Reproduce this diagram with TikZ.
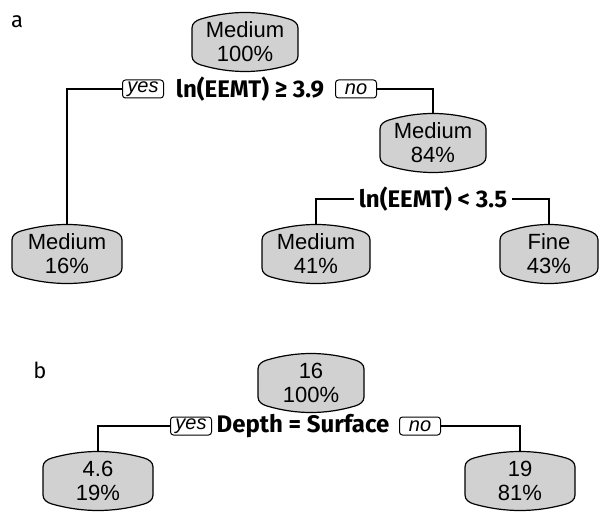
\documentclass[tikz,border=0pt]{standalone}
\usepackage{fontspec}
\setmainfont{Liberation Sans}
\newfontfamily\splitfont{Fira Sans}
\newfontfamily\panelfont{Fira Sans}
\begin{document}
\begin{tikzpicture}[x=1pt,y=-1pt,
  boxpath/.style={draw=black,fill=boxgray,line width=1.2pt},
  boxtext/.style={inner sep=0pt,align=center,font=\fontsize{22}{24}\selectfont},
  splitlabel/.style={inner sep=5pt,font=\splitfont\bfseries\fontsize{24}{26}\selectfont},
  yesno/.style={draw=black,line width=1pt,rounded corners=3pt,minimum width=41pt,
    minimum height=18pt,inner sep=0pt,font=\itshape\fontsize{20}{20}\selectfont},
  edge/.style={draw=black,line width=1.3pt},
  panel/.style={font=\panelfont\fontsize{22}{24}\selectfont}]
\definecolor{boxgray}{gray}{0.82}
\def\boxh{29.5}\def\boxb{6.5}\def\boxr{9}
% rounded box with convex top and bottom, plus a named node of the same size
\newcommand\rbox[5]{%
  \begin{scope}[shift={(#2,#3)}]
    \pgfmathsetmacro\W{#4}
    \pgfmathsetmacro\H{\boxh}
    \pgfmathsetmacro\K{(2*\W-2*\boxr)/3}
    \pgfmathsetmacro\S{4*\boxb/3}
    \pgfmathsetmacro\N{sqrt(\K*\K+\S*\S)}
    \pgfmathsetmacro\cx{0.55*\boxr*\K/\N}
    \pgfmathsetmacro\cy{0.55*\boxr*\S/\N}
    \pgfmathsetmacro\Y{\H-\boxb}
    \pgfmathsetmacro\Ys{\H-\boxb-\boxr}
    \pgfmathsetmacro\X{\W-\boxr}
    \pgfmathsetmacro\R{0.55*\boxr}
    \path[boxpath] (-\W,-\Ys) -- (-\W,\Ys)
      .. controls (-\W,\Ys+\R) and (-\X-\cx,\Y-\cy) .. (-\X,\Y)
      .. controls (-\X+\K,\Y+\S) and (\X-\K,\Y+\S) .. (\X,\Y)
      .. controls (\X+\cx,\Y-\cy) and (\W,\Ys+\R) .. (\W,\Ys)
      -- (\W,-\Ys)
      .. controls (\W,-\Ys-\R) and (\X+\cx,-\Y+\cy) .. (\X,-\Y)
      .. controls (\X-\K,-\Y-\S) and (-\X+\K,-\Y-\S) .. (-\X,-\Y)
      .. controls (-\X-\cx,-\Y+\cy) and (-\W,-\Ys-\R) .. cycle;
  \end{scope}
  \node[boxtext,minimum width=2*#4pt,minimum height=2*\boxh pt] (#1) at (#2,#3) {#5};}

\useasboundingbox (0,0) rectangle (600,513);

% ---------- tree a ----------
\node[panel] (pa) at (17,22) {a};
\rbox{ra}{245}{42}{53}{Medium\\100\%}
\node[splitlabel] (sa) at (250,89) {ln(EEMT) ≥ 3.9};
\node[yesno] (ya) at (143,89) {yes};
\node[yesno] (na) at (356,89) {no};
\rbox{m84}{433}{143}{53}{Medium\\84\%}
\node[splitlabel] (s2) at (433,199) {ln(EEMT) < 3.5};
\rbox{m16}{67}{254}{55}{Medium\\16\%}
\rbox{m41}{316}{254}{54}{Medium\\41\%}
\rbox{f43}{549}{254}{49}{Fine\\43\%}
\draw[edge] (ya.west) -| (m16.north);
\draw[edge] (na.east) -| (m84.north);
\draw[edge] (s2.west) -| (m41.north);
\draw[edge] (s2.east) -| (f43.north);

% ---------- tree b ----------
\node[panel] (pb) at (40,370) {b};
\rbox{rb}{311}{383}{53}{16\\100\%}
\node[splitlabel] (sb) at (303,426) {Depth = Surface};
\node[yesno] (yb) at (191,426) {yes};
\node[yesno] (nb) at (420,426) {no};
\rbox{l46}{98}{481}{55}{4.6\\19\%}
\rbox{r19}{520}{481}{55}{19\\81\%}
\draw[edge] (yb.west) -| (l46.north);
\draw[edge] (nb.east) -| (r19.north);
\end{tikzpicture}
\end{document}
